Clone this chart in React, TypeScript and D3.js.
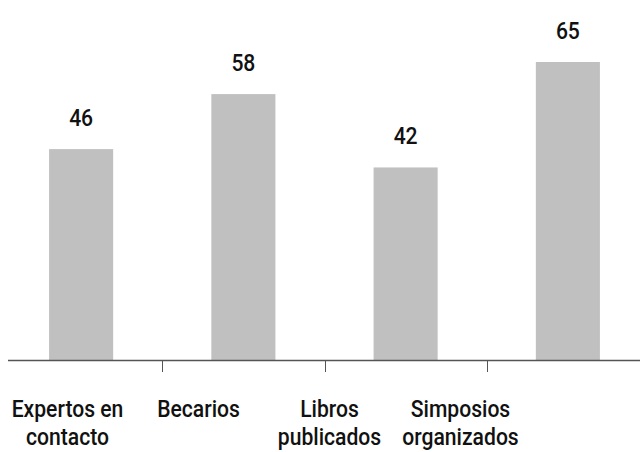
import React from "react";
import * as d3 from "d3";

const categories = ["Expertos en|contacto", "Becarios", "Libros|publicados", "Simposios|organizados"];
const values = [46, 58, 42, 65];

const W = 640;
const H = 452;
const baseY = 360;

export default function App() {
  const x = d3.scaleBand<string>().domain(categories).range([0, 649]).paddingInner(0.605).paddingOuter(0.3025);
  const xStep = d3.scaleBand<string>().domain(categories).range([0, 649]);
  const xLab = d3.scaleBand<string>().domain(categories).range([2, 526]);
  const y = d3.scaleLinear().domain([0, 65]).range([baseY, 62]);
  const font = "Roboto, sans-serif";
  return (
    <svg width={W} height={H} style={{ position: "absolute", left: 0, top: 0 }}>
      {categories.map((c, i) => (
        <rect key={c} x={x(c)!} y={y(values[i])} width={x.bandwidth()} height={baseY - y(values[i])} fill="#c0c0c0" />
      ))}
      {categories.map((c, i) => (
        <g key={"v" + c} transform={`translate(${x(c)! + x.bandwidth() / 2},${y(values[i]) - 23}) scale(0.88,1)`}>
          <text x={0} y={0} textAnchor="middle" fontFamily={font} fontWeight={500} fontSize={24} fill="#111">{values[i]}</text>
        </g>
      ))}
      <line x1={8} x2={W} y1={baseY + 0.5} y2={baseY + 0.5} stroke="#555" strokeWidth={1.5} />
      {categories.slice(1).map((c) => (
        <line key={"t" + c} x1={Math.round(xStep(c)!) + 0.5} x2={Math.round(xStep(c)!) + 0.5} y1={baseY} y2={baseY + 12} stroke="#555" strokeWidth={1} />
      ))}
      {categories.map((c) => (
        <g key={"l" + c} transform={`translate(${xLab(c)! + xLab.bandwidth() / 2},417) scale(0.88,1)`}>
          <text textAnchor="middle" fontFamily={font} fontWeight={500} fontSize={24} fill="#111">
            {c.split("|").map((s, j) => (
              <tspan key={j} x={0} y={j * 28}>{s}</tspan>
            ))}
          </text>
        </g>
      ))}
    </svg>
  );
}
